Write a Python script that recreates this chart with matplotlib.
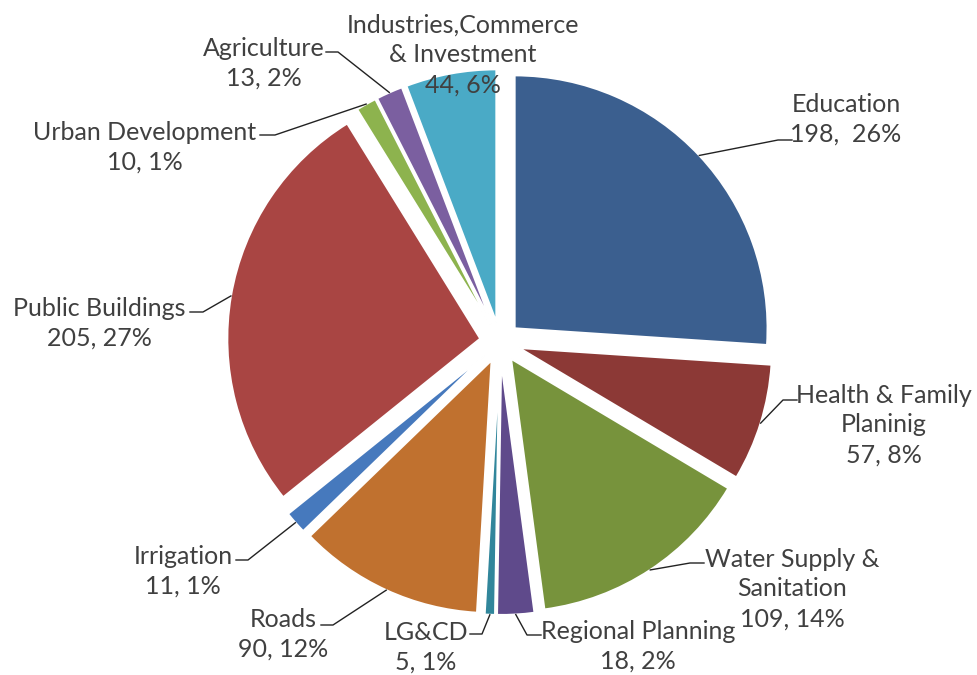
import math
import matplotlib
matplotlib.use("Agg")
import matplotlib.pyplot as plt

# data
sectors = ['Education', 'Health & Family\nPlaninig', 'Water Supply &\nSanitation',
           'Regional Planning', 'LG&CD', 'Roads', 'Irrigation', 'Public Buildings',
           'Urban Development', 'Agriculture', 'Industries,Commerce\n& Investment']
amounts = [198, 57, 109, 18, 5, 90, 11, 205, 10, 13, 44]
colors = ['#3B5F8F', '#8C3936', '#77933C', '#5F4A8B', '#31869B', '#C0712F',
          '#4679BD', '#A94543', '#8DB34E', '#7B5FA0', '#4AAAC6']

# label layout (pixel coords, origin top-left): text center, leader elbow, leader end x
text_xy = [(846, 119), (884, 425), (792, 589), (638, 646), (426, 647), (283, 634),
           (183, 571), (99, 323), (145, 147), (264, 63), (463, 55)]
elbow = [(778, 140), (783, 400), (690, 563), (527, 635), (482, 634), (333, 625),
         (248, 560), (203, 312), (275, 135), (338, 52), None]
end_x = [792, 797, 704, 541, 470, 321, 236, 190, 260, 326, None]

W, H = 977, 675
plt.rcParams['font.family'] = ['Lato', 'DejaVu Sans']

fig = plt.figure(figsize=(W / 100, H / 100), dpi=100)
ax = fig.add_axes([0, 0, 1, 1])

wedges, _ = ax.pie(amounts, colors=colors, startangle=90, counterclock=False,
                   radius=253, center=(500, H - 342), explode=[20] * len(amounts),
                   wedgeprops=dict(edgecolor='white', linewidth=1.5))
ax.set_xlim(0, W)
ax.set_ylim(0, H)
ax.set_aspect('equal')
ax.axis('off')

total = sum(amounts)
for i, (w, name, v) in enumerate(zip(wedges, sectors, amounts)):
    pct = int(v / total * 100 + 0.5)
    sep = ',  ' if i == 0 else ', '
    label = f'{name}\n{v}{sep}{pct}%'
    tx, ty = text_xy[i]
    ax.text(tx, H - ty, label, ha='center', va='center', multialignment='center',
            fontsize=18, color='#404040', linespacing=1.36)
    if elbow[i] is not None:
        th = math.radians((w.theta1 + w.theta2) / 2)
        cx, cy = w.center
        sx, sy = cx + w.r * math.cos(th), cy + w.r * math.sin(th)
        ex, ey = elbow[i]
        ax.plot([sx, ex, end_x[i]], [sy, H - ey, H - ey], color='#222222', lw=1)

fig.savefig('out.png', dpi=100)
